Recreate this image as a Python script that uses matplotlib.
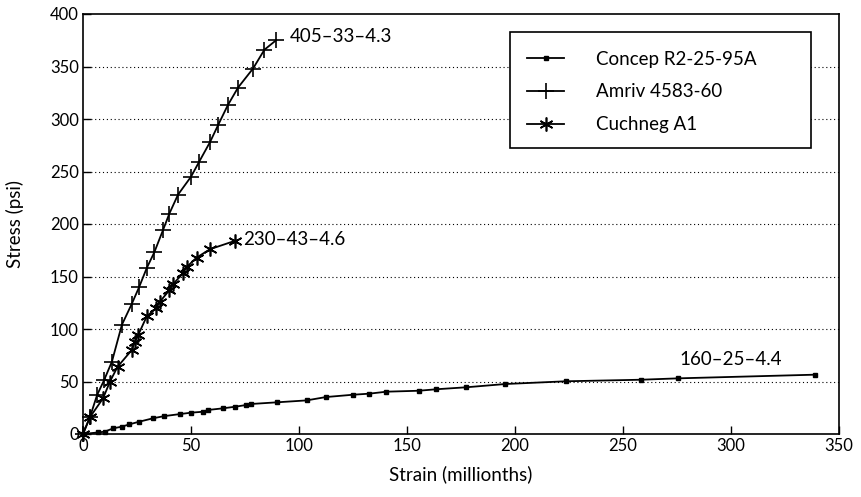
import matplotlib.pyplot as plt
from matplotlib.patches import Rectangle

plt.rcParams['font.family'] = ['Lato', 'DejaVu Sans']

# Concep R2-25-95A
concep_x = [0, 7, 10, 14, 18, 21.5, 26, 32.5, 37.5, 45, 50, 55.5, 58, 65, 70.5, 75.5, 78,
            90, 103.5, 112.5, 125, 132.5, 140.5, 155.5, 163.5, 177.5, 195.5, 223.5, 258.5, 275.5, 339]
concep_y = [0, 1.5, 2.2, 5.4, 7, 9.2, 11.7, 15, 17, 19, 20.3, 21.2, 22.9, 24.5, 26, 27.6, 28.6,
            30.2, 32, 35.2, 37.4, 38.4, 40.3, 41.2, 42.6, 44.5, 47.6, 50.2, 51.7, 53, 56.5]

# Amriv 4583-60
amriv_x = [0, 3.2, 6.5, 9.7, 13.4, 18, 22.6, 26, 29.5, 33, 37, 40, 44, 50, 53.7, 58.8, 62.5,
           67, 71.8, 78.7, 84, 89.4]
amriv_y = [0, 16, 37, 51, 69, 104, 124, 140, 158, 173, 194, 210, 228, 245, 259, 278, 294,
           313, 330, 348, 366, 375]

# Cuchneg A1
cuch_x = [0, 3.2, 9.3, 12.5, 16, 22.6, 24, 25.5, 29.5, 34, 35.6, 40, 41.8, 46.3, 48, 52.6, 58.8, 70.4]
cuch_y = [0, 16, 34, 50, 64, 80, 88, 94, 112, 120, 126, 137, 143, 153, 159, 168, 176, 184]

labels = ["160\u201325\u20134.4", "405\u201333\u20134.3", "230\u201343\u20134.6"]

fig = plt.figure(figsize=(8.61, 4.97), dpi=100)
ax = fig.add_axes([83 / 861, 63 / 497, 756 / 861, 420 / 497])

# dotted grid lines
for g in range(50, 400, 50):
    ax.axhline(g, color='black', linestyle=(0, (1, 2.5)), linewidth=0.8, zorder=0)

ax.plot(concep_x, concep_y, color='black', lw=1.3, marker='s', ms=3.5,
        label='Concep R2-25-95A', clip_on=False)
ax.plot(amriv_x, amriv_y, color='black', lw=1.3, marker='+', ms=11, mew=1.2,
        label='Amriv 4583-60', clip_on=False)
ax.plot(cuch_x, cuch_y, color='black', lw=1.3, marker=(6, 2, 0), ms=10, mew=1.2,
        label='Cuchneg A1', clip_on=False)

ax.text(276, 71, labels[0], fontsize=13.5, va='center', ha='left')
ax.text(95.5, 379, labels[1], fontsize=13.5, va='center', ha='left')
ax.text(74, 185, labels[2], fontsize=13.5, va='center', ha='left')

ax.set_xlim(0, 350)
ax.set_ylim(0, 400)
ax.set_xticks(range(0, 351, 50))
ax.set_yticks(range(0, 401, 50))
ax.tick_params(direction='in', length=6, labelsize=12, width=1, pad=3)
ax.set_xlabel('Strain (millionths)', fontsize=13.5, labelpad=8)
ax.set_ylabel('Stress (psi)', fontsize=13.5, labelpad=19)
for s in ax.spines.values():
    s.set_linewidth(1.2)

# legend box drawn separately (wide right margin as in the original)
box = Rectangle((0.5648, 0.681), 0.3982, 0.276, transform=ax.transAxes,
                facecolor='white', edgecolor='black', linewidth=1.2, zorder=4)
ax.add_patch(box)
leg = ax.legend(loc='upper left', bbox_to_anchor=(0.587, 0.913),
                fontsize=13.5, frameon=False, borderpad=0, labelspacing=0.85,
                handlelength=2.0, handletextpad=1.7, borderaxespad=0)
leg.set_zorder(5)

fig.savefig('out.png', dpi=100)
